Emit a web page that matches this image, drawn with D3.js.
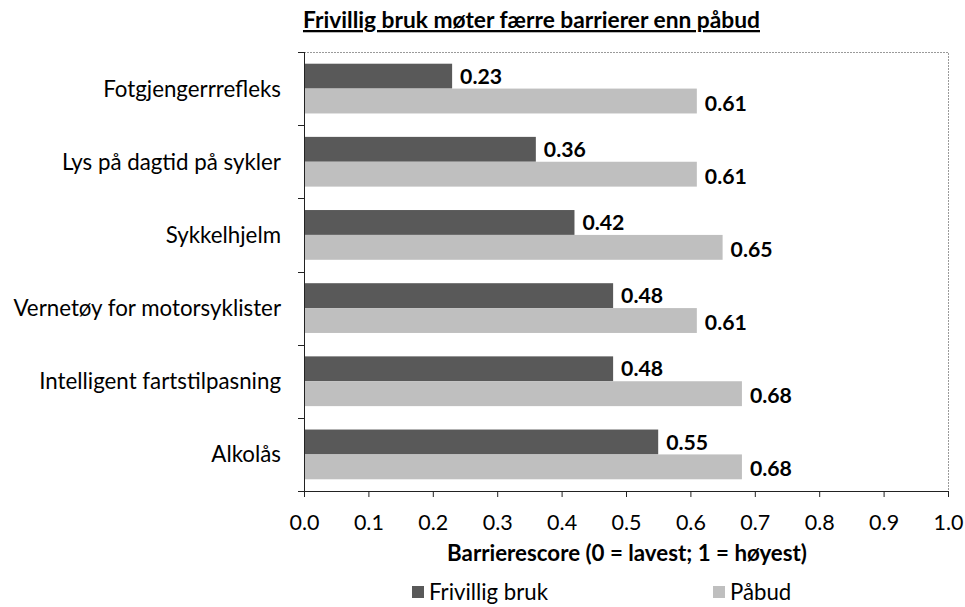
<!DOCTYPE html>
<html>
<head>
<meta charset="utf-8">
<script src="https://cdn.jsdelivr.net/npm/d3@7"></script>
<style>
  body { margin: 0; background: #fff; }
  svg text { font-family: Lato, "Open Sans", sans-serif; fill: #000; }
</style>
</head>
<body>
<div id="chart"></div>
<script>
var categories = ["Fotgjengerrrefleks", "Lys på dagtid på sykler", "Sykkelhjelm",
  "Vernetøy for motorsyklister", "Intelligent fartstilpasning", "Alkolås"];
var frivillig = [0.23, 0.36, 0.42, 0.48, 0.48, 0.55];
var pabud = [0.61, 0.61, 0.65, 0.61, 0.68, 0.68];
var seriesNames = ["Frivillig bruk", "Påbud"];
var xTicks = [0, 0.1, 0.2, 0.3, 0.4, 0.5, 0.6, 0.7, 0.8, 0.9, 1.0];

var W = 965, H = 607;
var margin = { top: 52, right: 17, bottom: 116, left: 304 };
var width = W - margin.left - margin.right,
    height = H - margin.top - margin.bottom;
var colors = ["#595959", "#bfbfbf"];

var svg = d3.select("#chart").append("svg")
  .attr("width", W).attr("height", H);

// pick a font size so that a sample string gets a given width
function fitSize(sample, target, bold) {
  var t = svg.append("text").style("font-size", "20px")
    .style("font-weight", bold ? "bold" : "normal").text(sample);
  var w = t.node().getComputedTextLength();
  t.remove();
  return (20 * target / w).toFixed(2) + "px";
}
var fsCat = fitSize("Fotgjengerrrefleks", 178, false);
var fsVal = fitSize("0.23", 42, true);
var fsTick = fitSize("0.0", 30, false);
var fsTitle = fitSize("Frivillig bruk møter færre barrierer enn påbud", 457, true);
var fsAxis = fitSize("Barrierescore (0 = lavest; 1 = høyest)", 360, true);
var fsLeg = fitSize("Frivillig bruk", 119, false);

var x = d3.scaleLinear().domain([0, 1]).range([0, width]);
var y = d3.scaleBand().domain(categories).range([0, height]).paddingInner(0.32).paddingOuter(0.16);
var sub = d3.scaleBand().domain([0, 1]).range([0, y.bandwidth()]);

var g = svg.append("g").attr("transform", "translate(" + margin.left + "," + margin.top + ")");

// dotted frame top/right
g.append("path")
  .attr("d", "M0,0.5H" + (width + 0.5) + "V" + height)
  .attr("fill", "none").attr("stroke", "#9a9a9a").attr("stroke-dasharray", "2,1");

var rows = g.selectAll(".row").data(categories).enter().append("g")
  .attr("transform", function(d) { return "translate(0," + y(d) + ")"; });

var data = [frivillig, pabud];
data.forEach(function(vals, s) {
  rows.append("rect")
    .attr("x", 0)
    .attr("y", sub(s))
    .attr("width", function(d, i) { return x(vals[i]); })
    .attr("height", sub.bandwidth())
    .attr("fill", colors[s]);
  rows.append("text")
    .attr("x", function(d, i) { return x(vals[i]) + 8; })
    .attr("y", sub(s) + sub.bandwidth() / 2 + (s === 0 ? 0 : 2))
    .attr("dy", "0.36em")
    .style("font-size", fsVal).style("font-weight", "bold")
    .text(function(d, i) { return vals[i].toFixed(2); });
});

// left axis with ticks at category boundaries
var step = height / categories.length;
var yb = d3.range(categories.length + 1).map(function(i) { return i * step; });
g.append("line").attr("x1", 0.5).attr("x2", 0.5).attr("y1", 0).attr("y2", height + 0.5)
  .attr("stroke", "#222");
g.selectAll(".ytick").data(yb).enter().append("line")
  .attr("x1", -6).attr("x2", 0).attr("y1", function(d) { return Math.round(d) + 0.5; })
  .attr("y2", function(d) { return Math.round(d) + 0.5; })
  .attr("stroke", "#222");
g.selectAll(".ylab").data(categories).enter().append("text")
  .attr("x", -23)
  .attr("y", function(d, i) { return (i + 0.5) * step; })
  .attr("dy", "0.36em")
  .attr("text-anchor", "end")
  .style("font-size", fsCat)
  .text(function(d) { return d; });

// bottom axis
var xAxis = d3.axisBottom(x).tickValues(xTicks).tickSize(6).tickSizeOuter(0)
  .tickFormat(d3.format(".1f"));
var xg = g.append("g").attr("transform", "translate(0," + height + ")").call(xAxis);
xg.select(".domain").attr("stroke", "#222");
xg.selectAll(".tick line").attr("stroke", "#222");
xg.selectAll(".tick text").attr("y", 31).attr("dy", "0.36em")
  .style("font-size", fsTick).style("font-family", "Lato, sans-serif");

// title
svg.append("text").attr("x", 531.5).attr("y", 28).attr("text-anchor", "middle")
  .style("font-size", fsTitle).style("font-weight", "bold")
  .style("text-decoration", "underline")
  .text("Frivillig bruk møter færre barrierer enn påbud");

// x axis title
svg.append("text").attr("x", 627).attr("y", 553).attr("dy", "0.36em").attr("text-anchor", "middle")
  .style("font-size", fsAxis).style("font-weight", "bold")
  .text("Barrierescore (0 = lavest; 1 = høyest)");

// legend
var legX = [412, 713];
seriesNames.forEach(function(n, i) {
  svg.append("rect").attr("x", legX[i]).attr("y", 586).attr("width", 12).attr("height", 12)
    .attr("fill", colors[i]);
  svg.append("text").attr("x", legX[i] + 17).attr("y", 592).attr("dy", "0.36em")
    .style("font-size", fsLeg).text(n);
});
</script>
</body>
</html>
